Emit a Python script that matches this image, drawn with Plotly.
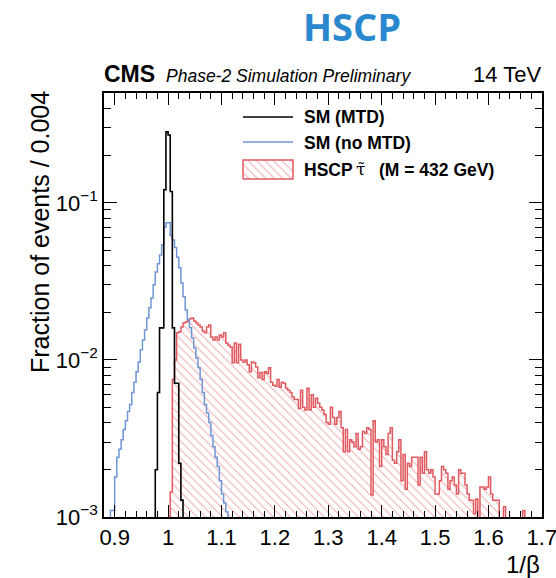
import numpy as np
import plotly.graph_objects as go

# ---------------- data (fraction of events per 0.004 bin) ----------------
BIN_WIDTH = 0.004

SM_MTD_START = 0.976
SM_MTD = [0.0020, 0.0062, 0.016, 0.016, 0.121, 0.283, 0.270, 0.118,
          0.016, 0.0071, 0.0071, 0.0022, 0.00128]

SM_NOMTD_START = 0.892
SM_NOMTD = [0.0011, 0.0011, 0.0018, 0.0024, 0.0027, 0.0031, 0.0036, 0.0041,
            0.0047, 0.0052, 0.0062, 0.0072, 0.0084, 0.0097, 0.0116, 0.0134,
            0.0155, 0.0185, 0.0215, 0.0248, 0.0301, 0.0363, 0.0410, 0.0465,
            0.054, 0.070, 0.0747, 0.0747, 0.062, 0.058, 0.052, 0.045,
            0.0386, 0.0309, 0.0252, 0.0208, 0.018, 0.016, 0.0138, 0.0119,
            0.0103, 0.0089, 0.0075, 0.0062, 0.0052, 0.0046, 0.0040, 0.0033,
            0.0028, 0.0024, 0.0021, 0.0017, 0.0014, 0.00123, 0.00108]

HSCP_START = 1.000
HSCP = [0, 0.00144, 0.0075, 0.0100, 0.0149, 0.0151, 0.0162, 0.0172,
        0.0174, 0.0177, 0.0183, 0.0185, 0.0177, 0.0172, 0.0167, 0.0162,
        0.0153, 0.0149, 0.0162, 0.0167, 0.0140, 0.0134, 0.0140, 0.0134,
        0.0144, 0.0140, 0.0149, 0.0128, 0.0124, 0.0121, 0.0096, 0.0128,
        0.0096, 0.0126, 0.0100, 0.0097, 0.0100, 0.0093, 0.0084, 0.0097,
        0.0096, 0.0090, 0.0077, 0.0083, 0.0075, 0.0084, 0.0082, 0.0089,
        0.0072, 0.0069, 0.0068, 0.0075, 0.0067, 0.0072, 0.0071, 0.0066,
        0.0064, 0.0062, 0.0058, 0.0056, 0.0056, 0.0049, 0.0064, 0.0050,
        0.0048, 0.0066, 0.0048, 0.0060, 0.0050, 0.0057, 0.0053, 0.0050,
        0.0048, 0.0045, 0.0040, 0.0039, 0.0050, 0.0043, 0.0039, 0.0043,
        0.0047, 0.0037, 0.0026, 0.0036, 0.0026, 0.0031, 0.0030, 0.0028,
        0.0034, 0.0027, 0.0028, 0.0035, 0.0034, 0.0037, 0.0036, 0.00138,
        0.0041, 0.0030, 0.0031, 0.0021, 0.0031, 0.0028, 0.0025, 0.0034,
        0.0037, 0.0023, 0.0022, 0.0026, 0.0031, 0.0017, 0.0025, 0.0015,
        0.0022, 0.0021, 0.0024, 0.0024, 0.0024, 0.0016, 0.0024, 0.0019,
        0.0026, 0.0020, 0.0019, 0.0020, 0.0018, 0.0014, 0.0014, 0.0017,
        0.0021, 0.0020, 0.0019, 0.0015, 0.0017, 0.0018, 0.0016, 0.0014,
        0.0020, 0.0019, 0.0019, 0.0016, 0.0014, 0.00128, 0.00128, 0.00105,
        0.0013, 0, 0.00155, 0.00155, 0.0015, 0.00155, 0.0018, 0.0014,
        0.00128, 0.00128, 0.00128, 0, 0, 0.00116, 0, 0,
        0, 0, 0, 0, 0, 0, 0.0011, 0,
        0, 0, 0, 0, 0, 0, 0]

X_TICKS = [0.9, 1.0, 1.1, 1.2, 1.3, 1.4, 1.5, 1.6, 1.7]
X_TICK_LABELS = ["0.9", "1", "1.1", "1.2", "1.3", "1.4", "1.5", "1.6", "1.7"]
Y_TICKS = [1e-3, 1e-2, 1e-1]
Y_TICK_LABELS = ["10<sup>\u22123</sup>", "10<sup>\u22122</sup>", "10<sup>\u22121</sup>"]

LEGEND_LABELS = ["SM (MTD)", "SM (no MTD)", "HSCP", "\u03c4\u0303", "(M = 432 GeV)"]

# ---------------- style ----------------
FONT = "Liberation Sans, Arial, Helvetica, sans-serif"
BLACK = "#000000"
BLUE = "#7096d6"
RED = "#e05a60"
HSCP_BLUE = "#2a88cf"

W, H = 556, 578
L, R, T, B = 104, 542, 93, 517   # plot area in pixels


def px(x):
    return (x - L) / (R - L)


def py(y):
    return (B - y) / (B - T)


def step_xy(start, vals, floor=1e-5):
    n = len(vals)
    edges = start + BIN_WIDTH * np.arange(n + 1)
    v = np.array([val if val > 0 else floor for val in vals], dtype=float)
    x = np.concatenate([[edges[0]], edges[:-1], [edges[-1]], [edges[-1]]])
    y = np.concatenate([[floor], v, [v[-1]], [floor]])
    return x, y


fig = go.Figure()

# HSCP hatched histogram
hx, hy = step_xy(HSCP_START, HSCP)
fig.add_trace(go.Scatter(
    x=hx, y=hy, mode="lines", line=dict(color=RED, width=1.5, shape="hv"),
    fill="toself", fillcolor="rgba(0,0,0,0)",
    fillpattern=dict(shape="\\", fgcolor=RED, bgcolor="rgba(0,0,0,0)",
                     size=6, solidity=0.18),
    showlegend=False, hoverinfo="skip"))

bx, by = step_xy(SM_NOMTD_START, SM_NOMTD)
fig.add_trace(go.Scatter(x=bx, y=by, mode="lines",
                         line=dict(color=BLUE, width=1.5, shape="hv"),
                         showlegend=False, hoverinfo="skip"))

kx, ky = step_xy(SM_MTD_START, SM_MTD)
fig.add_trace(go.Scatter(x=kx, y=ky, mode="lines",
                         line=dict(color=BLACK, width=1.6, shape="hv"),
                         showlegend=False, hoverinfo="skip"))

# legend key box (hatched) on hidden overlay axes in plot-fraction units
lx0, lx1, ly0, ly1 = px(243), px(293), py(179), py(160)
fig.add_trace(go.Scatter(
    x=[lx0, lx1, lx1, lx0, lx0], y=[ly0, ly0, ly1, ly1, ly0],
    xaxis="x2", yaxis="y2", mode="lines",
    line=dict(color=RED, width=1.5), fill="toself", fillcolor="rgba(0,0,0,0)",
    fillpattern=dict(shape="\\", fgcolor=RED, bgcolor="rgba(0,0,0,0)",
                     size=6, solidity=0.18),
    showlegend=False, hoverinfo="skip"))

x_minor = [round(v, 3) for v in np.arange(0.88, 1.7001, 0.02)]
y_minor = []
for dec in [1e-3, 1e-2, 1e-1]:
    for m in range(2, 10):
        if m * dec <= 0.5:
            y_minor.append(m * dec)

axis_common = dict(showline=True, linecolor=BLACK, linewidth=1.5, mirror="ticks",
                   ticks="inside", tickcolor=BLACK, tickwidth=1.2,
                   showgrid=False, zeroline=False, ticklabeloverflow="allow",
                   automargin=False,
                   tickfont=dict(family=FONT, size=22, color=BLACK))

fig.update_layout(
    width=W, height=H,
    margin=dict(l=L, r=W - R, t=T, b=H - B, autoexpand=False),
    paper_bgcolor="white", plot_bgcolor="white",
    showlegend=False,
    xaxis=dict(range=[0.88, 1.7002], tickmode="array", tickvals=X_TICKS,
               ticktext=X_TICK_LABELS, ticklen=12,
               minor=dict(tickmode="array", tickvals=x_minor, ticklen=6,
                          ticks="inside", tickcolor=BLACK, tickwidth=1.2),
               **axis_common),
    yaxis=dict(type="log", range=[-3, np.log10(0.5)], tickmode="array",
               tickvals=Y_TICKS, ticktext=Y_TICK_LABELS, ticklen=13,
               minor=dict(tickmode="array", tickvals=y_minor, ticklen=7,
                          ticks="inside", tickcolor=BLACK, tickwidth=1.2),
               **axis_common),
    xaxis2=dict(overlaying="x", range=[0, 1], visible=False, anchor="y2"),
    yaxis2=dict(overlaying="y", range=[0, 1], visible=False, anchor="x2"),
)

ann = []
ann.append(dict(text="<b>HSCP</b>", x=px(352), y=py(26), xanchor="center", yanchor="middle",
                font=dict(family="Open Sans, sans-serif", size=38, color=HSCP_BLUE)))
ann.append(dict(text="<b>CMS</b>", x=px(102), y=py(74), xanchor="left", yanchor="middle",
                font=dict(family=FONT, size=23, color=BLACK)))
ann.append(dict(text="<i>Phase-2 Simulation Preliminary</i>", x=px(164), y=py(76),
                xanchor="left", yanchor="middle",
                font=dict(family=FONT, size=17.5, color=BLACK)))
ann.append(dict(text="14 TeV", x=px(543), y=py(74), xanchor="right", yanchor="middle",
                font=dict(family=FONT, size=22, color=BLACK)))
ann.append(dict(text="Fraction of events / 0.004", x=px(40), y=py(232), textangle=-90,
                xanchor="center", yanchor="middle",
                font=dict(family=FONT, size=25, color=BLACK)))
ann.append(dict(text="1/\u03b2", x=px(542), y=py(564), xanchor="right", yanchor="middle",
                font=dict(family=FONT, size=24, color=BLACK)))
# legend texts
ann.append(dict(text="<b>" + LEGEND_LABELS[0] + "</b>", x=px(302), y=py(117), xanchor="left",
                yanchor="middle", font=dict(family=FONT, size=17.5, color=BLACK)))
ann.append(dict(text="<b>" + LEGEND_LABELS[1] + "</b>", x=px(302), y=py(143), xanchor="left",
                yanchor="middle", font=dict(family=FONT, size=17.5, color=BLACK)))
ann.append(dict(text="<b>" + LEGEND_LABELS[2] + "</b>", x=px(302), y=py(170), xanchor="left",
                yanchor="middle", font=dict(family=FONT, size=17.5, color=BLACK)))
ann.append(dict(text=LEGEND_LABELS[3], x=px(354), y=py(169), xanchor="left",
                yanchor="middle", font=dict(family="DejaVu Serif, serif", size=17, color=BLACK)))
ann.append(dict(text="<b>" + LEGEND_LABELS[4] + "</b>", x=px(377), y=py(170), xanchor="left",
                yanchor="middle", font=dict(family=FONT, size=17.5, color=BLACK)))
for a in ann:
    a.update(xref="paper", yref="paper", showarrow=False)
fig.update_layout(annotations=ann)

# legend line samples
fig.add_shape(type="line", xref="paper", yref="paper", x0=px(243), x1=px(293),
              y0=py(117), y1=py(117), line=dict(color=BLACK, width=1.5))
fig.add_shape(type="line", xref="paper", yref="paper", x0=px(243), x1=px(293),
              y0=py(142), y1=py(142), line=dict(color=BLUE, width=1.5))

fig.write_html("out.html")
